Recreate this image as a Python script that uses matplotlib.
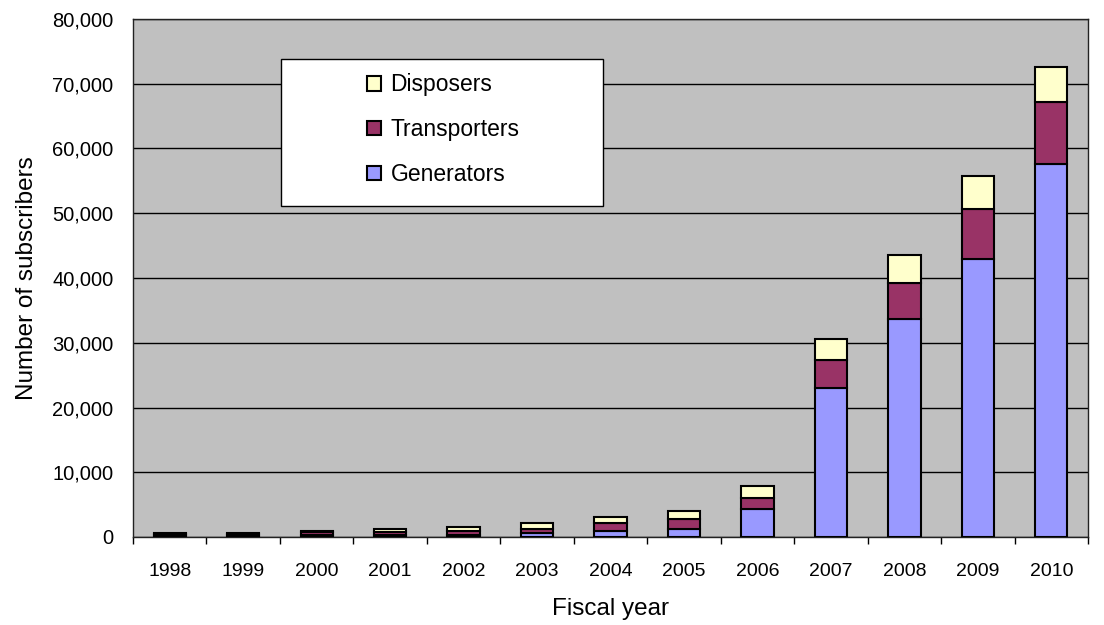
import matplotlib.pyplot as plt
import numpy as np
from matplotlib.patches import Rectangle

plt.rcParams['font.family'] = ['Liberation Sans', 'DejaVu Sans']

years = ['1998', '1999', '2000', '2001', '2002', '2003', '2004',
         '2005', '2006', '2007', '2008', '2009', '2010']
generators = [200, 200, 300, 300, 300, 600, 900,
              1200, 4250, 23000, 33700, 42900, 57600]
transporters = [300, 300, 500, 500, 700, 600, 1300,
                1600, 1750, 4300, 5500, 7700, 9600]
disposers = [100, 150, 200, 500, 600, 1000, 900,
             1200, 1900, 3300, 4300, 5100, 5400]

yticks = np.arange(0, 80001, 10000)

fig = plt.figure(figsize=(11.04, 6.25), dpi=100)
ax = fig.add_axes([0.1205, 0.1408, 0.865, 0.8288])
ax.set_facecolor('#C0C0C0')

x = np.arange(len(years))
g = np.array(generators)
t = np.array(transporters)
d = np.array(disposers)
w = 0.44
ec = dict(edgecolor='black', linewidth=1.5, zorder=3)
b1 = ax.bar(x, g, w, color='#9999FF', label='Generators', **ec)
b2 = ax.bar(x, t, w, bottom=g, color='#993366', label='Transporters', **ec)
b3 = ax.bar(x, d, w, bottom=g + t, color='#FFFFCC', label='Disposers', **ec)

ax.set_ylim(0, 80000)
ax.set_xlim(-0.5, len(years) - 0.5)
ax.set_yticks(yticks)
ax.set_yticklabels([f'{v:,}' for v in yticks], fontsize=14.5)
ax.tick_params(axis='y', length=0, pad=14)
ax.set_xticks(x)
ax.set_xticklabels(years, fontsize=14)
ax.tick_params(axis='x', which='major', length=0, pad=19)
ax.set_xticks(np.arange(-0.5, len(years), 1), minor=True)
ax.tick_params(axis='x', which='minor', length=5, direction='out', width=1)
ax.yaxis.grid(True, color='black', linewidth=1)
ax.set_axisbelow(True)
for s in ax.spines.values():
    s.set_color('#222222')
    s.set_linewidth(1)

ax.set_ylabel('Number of subscribers', fontsize=17.5, labelpad=10)
ax.set_xlabel('Fiscal year', fontsize=17.5, labelpad=13)

ax.add_patch(Rectangle((0.155, 0.639), 0.337, 0.284, transform=ax.transAxes,
                       facecolor='white', edgecolor='black', linewidth=1, zorder=4))
leg = ax.legend([b3, b2, b1], ['Disposers', 'Transporters', 'Generators'],
                loc='upper left', bbox_to_anchor=(0.2335, 0.917), frameon=False,
                fontsize=16.5, handlelength=0.6, handleheight=0.6,
                handletextpad=0.4, labelspacing=0.95, borderpad=0)
leg.set_zorder(5)

plt.savefig('out.png', dpi=100)
